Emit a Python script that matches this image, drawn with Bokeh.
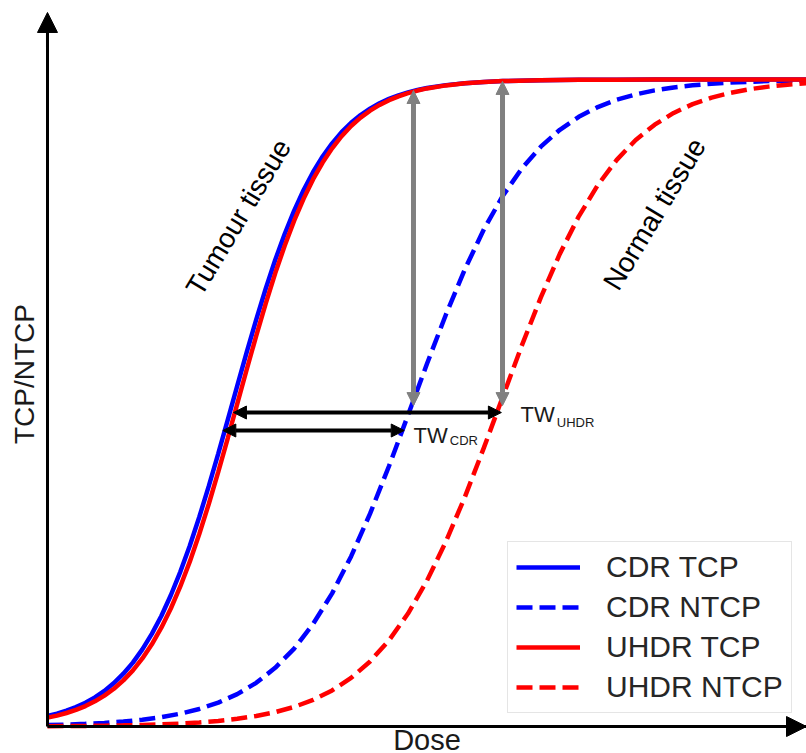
from bokeh.plotting import figure
from bokeh.models import (LinearAxis, FixedTicker, Range1d, Arrow, NormalHead, Label,
                          Legend, LegendItem, ColumnDataSource)
from bokeh.embed import file_html
from bokeh.resources import INLINE

# ---- data ----
# tumour control curves (finer sampling where they bend)
tcp_dose = [0.0, 0.125, 0.25, 0.375, 0.5, 0.625, 0.75, 0.875, 1.0, 1.125,
            1.25, 1.375, 1.5, 1.625, 1.75, 1.875, 2.0, 2.125, 2.25, 2.375,
            2.5, 2.625, 2.75, 2.875, 3.0, 3.125, 3.25, 3.375, 3.5, 3.625,
            3.75, 3.875, 4.0, 4.125, 4.25, 4.375, 4.5, 4.625, 4.75, 4.875,
            5.0, 5.25, 5.5, 5.75, 6.0, 6.5, 7.0, 7.5, 8.0, 9.0, 10.0]

cdr_tcp = [0.0162, 0.0199, 0.0245, 0.0301, 0.0368, 0.0451, 0.0550, 0.0671, 0.0816, 0.0988,
           0.1192, 0.1432, 0.1709, 0.2029, 0.2391, 0.2795, 0.3238, 0.3715, 0.4219, 0.4740,
           0.5265, 0.5786, 0.6288, 0.6766, 0.7210, 0.7612, 0.7974, 0.8293, 0.8571, 0.8810,
           0.9013, 0.9186, 0.9330, 0.9450, 0.9550, 0.9633, 0.9700, 0.9756, 0.9801, 0.9838,
           0.9869, 0.9913, 0.9943, 0.9963, 0.9975, 0.9989, 0.9995, 0.9998, 0.9999, 1.0, 1.0]

uhdr_tcp = [0.0137, 0.0169, 0.0209, 0.0257, 0.0316, 0.0389, 0.0477, 0.0584, 0.0713, 0.0867,
            0.1053, 0.1271, 0.1528, 0.1824, 0.2165, 0.2548, 0.2975, 0.3439, 0.3937, 0.4455,
            0.4987, 0.5518, 0.6039, 0.6536, 0.7004, 0.7430, 0.7818, 0.8159, 0.8460, 0.8717,
            0.8937, 0.9124, 0.9281, 0.9410, 0.9518, 0.9607, 0.9680, 0.9740, 0.9789, 0.9829,
            0.9862, 0.9909, 0.9941, 0.9961, 0.9975, 0.9989, 0.9995, 0.9998, 0.9999, 1.0, 1.0]

# normal tissue complication curves
ntcp_dose = [0.0, 0.25, 0.5, 0.75, 1.0, 1.25, 1.5, 1.75, 2.0, 2.25,
             2.5, 2.75, 3.0, 3.25, 3.5, 3.75, 4.0, 4.25, 4.5, 4.75,
             5.0, 5.25, 5.5, 5.75, 6.0, 6.25, 6.5, 6.75, 7.0, 7.25,
             7.5, 7.75, 8.0, 8.25, 8.5, 8.75, 9.0, 9.25, 9.5, 9.75, 10.0]

cdr_ntcp = [0.0022, 0.0030, 0.0041, 0.0056, 0.0077, 0.0106, 0.0145, 0.0198, 0.0271, 0.0369,
            0.0500, 0.0675, 0.0907, 0.1205, 0.1586, 0.2058, 0.2629, 0.3290, 0.4027, 0.4812,
            0.5607, 0.6369, 0.7070, 0.7685, 0.8204, 0.8626, 0.8962, 0.9223, 0.9423, 0.9574,
            0.9687, 0.9770, 0.9832, 0.9877, 0.9910, 0.9935, 0.9952, 0.9965, 0.9975, 0.9982, 0.9987]

uhdr_ntcp = [0.0005, 0.0007, 0.0009, 0.0013, 0.0018, 0.0024, 0.0033, 0.0046, 0.0063, 0.0087,
             0.0119, 0.0163, 0.0222, 0.0303, 0.0412, 0.0558, 0.0752, 0.1006, 0.1333, 0.1746,
             0.2255, 0.2860, 0.3551, 0.4310, 0.5102, 0.5890, 0.6633, 0.7305, 0.7885, 0.8368,
             0.8758, 0.9066, 0.9302, 0.9483, 0.9619, 0.9720, 0.9795, 0.9850, 0.9890, 0.9920, 0.9942]

series_labels = ["CDR TCP", "CDR NTCP", "UHDR TCP", "UHDR NTCP"]

# therapeutic-window markers (dose positions and response levels)
tw_names = ["CDR", "UHDR"]
tw_level = [0.4575, 0.4853]        # response level of the horizontal TW arrows
tw_start = [2.31, 2.45]            # dose where the TCP curve reaches that level
tw_end = [4.70, 5.98]              # dose where the NTCP curve reaches that level
iso_dose = [4.822, 5.995]          # doses of the vertical grey arrows
iso_low = [0.496, 0.496]
iso_high = [0.983, 0.997]

FONT = "Liberation Sans"

tcp_src = ColumnDataSource(dict(dose=tcp_dose, cdr_tcp=cdr_tcp, uhdr_tcp=uhdr_tcp))
ntcp_src = ColumnDataSource(dict(dose=ntcp_dose, cdr_ntcp=cdr_ntcp, uhdr_ntcp=uhdr_ntcp))

p = figure(width=806, height=753, x_range=Range1d(-0.619, 10.0), y_range=Range1d(-0.0417, 1.1221),
           output_backend="svg", toolbar_location=None, x_axis_location=None, y_axis_location=None,
           min_border=0, outline_line_color=None)
p.grid.visible = False
p.background_fill_color = "white"


def style_axis(ax, size):
    ax.major_tick_line_color = None
    ax.minor_tick_line_color = None
    ax.major_tick_out = 0
    ax.major_tick_in = 0
    ax.major_label_text_font_size = "0px"
    ax.major_label_standoff = 0
    ax.axis_line_color = "black"
    ax.axis_line_width = 3
    ax.axis_label_text_font = FONT
    ax.axis_label_text_font_size = size
    ax.axis_label_text_font_style = "normal"
    ax.axis_label_text_color = "#1a1a1a"


xaxis = LinearAxis(fixed_location=0, ticker=FixedTicker(ticks=[]), bounds=(0, 10.0), axis_label="Dose")
style_axis(xaxis, "29px")
xaxis.axis_label_standoff = -3
p.add_layout(xaxis, "below")

yaxis = LinearAxis(fixed_location=0, ticker=FixedTicker(ticks=[]), bounds=(0, 1.09), axis_label="TCP/NTCP")
style_axis(yaxis, "28px")
yaxis.axis_label_standoff = 8
p.add_layout(yaxis, "left")

p.add_layout(Arrow(end=NormalHead(size=20, fill_color="black", line_color="black"),
                   x_start=0, y_start=1.05, x_end=0, y_end=1.1036, line_width=3, line_color="black"))
p.add_layout(Arrow(end=NormalHead(size=20, fill_color="black", line_color="black"),
                   x_start=9.7, y_start=0, x_end=10.0, y_end=0, line_width=3, line_color="black"))

# curves
r1 = p.line("dose", "cdr_tcp", source=tcp_src, line_color="#0000ff", line_width=4.5)
r2 = p.line("dose", "cdr_ntcp", source=ntcp_src, line_color="#0000ff", line_width=4.5, line_dash="16 7")
r3 = p.line("dose", "uhdr_tcp", source=tcp_src, line_color="#ff0000", line_width=4.5)
r4 = p.line("dose", "uhdr_ntcp", source=ntcp_src, line_color="#ff0000", line_width=4.5, line_dash="16 7")

# vertical grey arrows
for xd, y0, y1 in zip(iso_dose, iso_low, iso_high):
    p.add_layout(Arrow(start=NormalHead(size=13, fill_color="#808080", line_color="#808080"),
                       end=NormalHead(size=13, fill_color="#808080", line_color="#808080"),
                       x_start=xd, y_start=y0, x_end=xd, y_end=y1,
                       line_color="#808080", line_width=5))

# horizontal black TW arrows
for lv, xs, xe in zip(tw_level, tw_start, tw_end):
    p.add_layout(Arrow(start=NormalHead(size=13, fill_color="black", line_color="black"),
                       end=NormalHead(size=13, fill_color="black", line_color="black"),
                       x_start=xs, y_start=lv, x_end=xe, y_end=lv,
                       line_color="black", line_width=4))

# TW labels with subscripts
p.add_layout(Label(x=4.822, y=0.450, text="TW", text_font=FONT, text_font_size="22px",
                   text_color="#1a1a1a", text_baseline="alphabetic"))
p.add_layout(Label(x=5.30, y=0.442, text=tw_names[0], text_font=FONT, text_font_size="13px",
                   text_color="#1a1a1a", text_baseline="alphabetic"))
p.add_layout(Label(x=6.232, y=0.482, text="TW", text_font=FONT, text_font_size="22px",
                   text_color="#1a1a1a", text_baseline="alphabetic"))
p.add_layout(Label(x=6.71, y=0.470, text=tw_names[1], text_font=FONT, text_font_size="13px",
                   text_color="#1a1a1a", text_baseline="alphabetic"))

# tissue annotations
p.add_layout(Label(x=2.516, y=0.787, text="Tumour tissue", angle=59, angle_units="deg",
                   text_align="center", text_baseline="middle", text_font=FONT,
                   text_font_size="28px", text_color="black"))
p.add_layout(Label(x=7.997, y=0.792, text="Normal tissue", angle=59, angle_units="deg",
                   text_align="center", text_baseline="middle", text_font=FONT,
                   text_font_size="28px", text_color="black"))

legend = Legend(items=[LegendItem(label=series_labels[0], renderers=[r1]),
                       LegendItem(label=series_labels[1], renderers=[r2]),
                       LegendItem(label=series_labels[2], renderers=[r3]),
                       LegendItem(label=series_labels[3], renderers=[r4])],
                location=(507, 40), margin=0, padding=8, glyph_width=64, glyph_height=34,
                label_height=34, label_standoff=26, spacing=6,
                label_text_font=FONT, label_text_font_size="30px", label_text_color="#262626",
                border_line_color="#cccccc", border_line_width=1.5,
                background_fill_color="white", background_fill_alpha=0.8)
p.add_layout(legend)

open("out.html", "w").write(file_html(p, INLINE))
